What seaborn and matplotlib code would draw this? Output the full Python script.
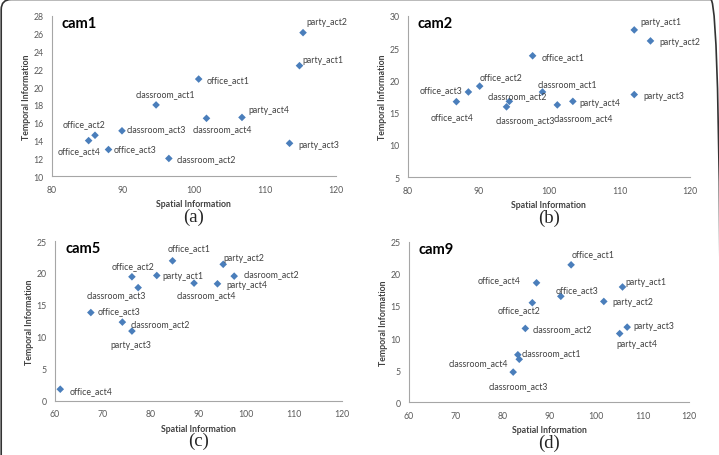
"""
Spatial vs temporal information scatter panels for four cameras.
"""

import matplotlib
matplotlib.use('Agg')
import matplotlib.pyplot as plt
from matplotlib.patches import FancyBboxPatch
import seaborn as sns

# Data

cam1_labels = ['office_act1', 'office_act2', 'office_act3', 'office_act4',
               'classroom_act1', 'classroom_act2', 'classroom_act3', 'classroom_act4',
               'party_act1', 'party_act2', 'party_act3', 'party_act4']
cam1_spatial = [100.7, 86.1, 88.0, 85.2, 94.7, 96.5, 89.9, 101.8, 114.9, 115.4, 113.5, 106.8]
cam1_temporal = [20.9, 14.6, 13.0, 14.0, 18.0, 12.0, 15.1, 16.5, 22.4, 26.1, 13.7, 16.6]

cam2_labels = cam1_labels
cam2_spatial = [97.7, 90.2, 88.6, 86.9, 99.1, 94.4, 94.0, 101.2, 112.1, 114.4, 112.1, 103.4]
cam2_temporal = [23.8, 19.1, 18.2, 16.7, 18.2, 16.75, 15.9, 16.2, 27.8, 26.1, 17.8, 16.75]

cam5_labels = ['office_act1', 'office_act2', 'office_act3', 'office_act4',
               'clasroom_act2', 'classroom_act2', 'classroom_act3', 'classroom_act4',
               'party_act1', 'party_act2', 'party_act3', 'party_act4']
cam5_spatial = [84.6, 76.1, 67.5, 61.1, 97.5, 74.1, 77.4, 89.1, 81.3, 95.2, 76.1, 94.0]
cam5_temporal = [21.9, 19.4, 13.8, 1.8, 19.5, 12.3, 17.7, 18.4, 19.6, 21.35, 10.9, 18.3]

cam9_labels = cam1_labels
cam9_spatial = [94.7, 86.4, 92.5, 87.3, 83.3, 84.9, 82.3, 83.6, 105.7, 101.7, 106.7, 105.1]
cam9_temporal = [21.4, 15.5, 16.5, 18.6, 7.4, 11.5, 4.7, 6.7, 17.95, 15.7, 11.7, 10.7]

# Label placement (offset in pixels, horizontal alignment)

label_offsets = {
    'cam1': {'office_act1': (8, -1, 'left'), 'office_act2': (-11, 12, 'center'),
             'office_act3': (5, 1, 'left'), 'office_act4': (-10, -10, 'center'),
             'classroom_act1': (9, 11, 'center'), 'classroom_act2': (8, 0, 'left'),
             'classroom_act3': (5, 2, 'left'), 'classroom_act4': (16, -10, 'center'),
             'party_act1': (3, 6, 'left'), 'party_act2': (3, 11, 'left'),
             'party_act3': (9, -1, 'left'), 'party_act4': (6, 8, 'left')},
    'cam2': {'office_act1': (9, -1, 'left'), 'office_act2': (21, 10, 'center'),
             'office_act3': (-6, 2, 'right'), 'office_act4': (-4, -15, 'center'),
             'classroom_act1': (25, 8, 'center'), 'classroom_act2': (8, 6, 'center'),
             'classroom_act3': (19, -13, 'center'), 'classroom_act4': (26, -13, 'center'),
             'party_act1': (6, 8, 'left'), 'party_act2': (9, -1, 'left'),
             'party_act3': (9, -1, 'left'), 'party_act4': (7, -1, 'left')},
    'cam5': {'office_act1': (17, 13, 'center'), 'office_act2': (1, 11, 'center'),
             'office_act3': (7, 2, 'left'), 'office_act4': (9, -1, 'left'),
             'clasroom_act2': (9, 3, 'left'), 'classroom_act2': (8, -1, 'left'),
             'classroom_act3': (-22, -7, 'center'), 'classroom_act4': (12, -11, 'center'),
             'party_act1': (6, 0, 'left'), 'party_act2': (0, 7, 'left'),
             'party_act3': (-1, -13, 'center'), 'party_act4': (9, -1, 'left')},
    'cam9': {'office_act1': (1, 11, 'left'), 'office_act2': (-13, -7, 'center'),
             'office_act3': (16, 7, 'center'), 'office_act4': (-16, 3, 'right'),
             'classroom_act1': (4, 2, 'left'), 'classroom_act2': (7, 0, 'left'),
             'classroom_act3': (5, -14, 'center'), 'classroom_act4': (-11, -3, 'right'),
             'party_act1': (3, 5, 'left'), 'party_act2': (9, 0, 'left'),
             'party_act3': (6, 2, 'left'), 'party_act4': (17, -10, 'center')},
}

W, H = 719, 456
SANS = ['Lato', 'DejaVu Sans']
MARKER = '#4A7EBB'
AXCOL = '#A6A6A6'


def add_panel(fig, box, name, letter, labels, xs, ys, xlim, xstep, ylim, ystep):
    """Draw one camera panel; box is (left, right, top, bottom) in pixels"""

    left, right, top, bottom = box
    ax = fig.add_axes([left / W, 1 - bottom / H, (right - left) / W, (bottom - top) / H])

    sns.scatterplot(x=xs, y=ys, marker='D', color=MARKER, s=15,
                    edgecolor='none', ax=ax, clip_on=False, zorder=3)

    for lab, x, y in zip(labels, xs, ys):
        dx, dy, ha = label_offsets[name][lab]
        ax.annotate(lab, (x, y), xytext=(dx, dy), textcoords='offset pixels',
                    ha=ha, va='center', fontsize=6.3, color='#404040',
                    family=SANS)

    ax.set_xlim(*xlim)
    ax.set_ylim(*ylim)
    ax.set_xticks(range(xlim[0], xlim[1] + 1, xstep))
    ax.set_yticks(range(ylim[0], ylim[1] + 1, ystep))
    for side in ['top', 'right']:
        ax.spines[side].set_visible(False)
    for side in ['left', 'bottom']:
        ax.spines[side].set_color(AXCOL)
        ax.spines[side].set_linewidth(0.8)
    ax.tick_params(direction='out', length=3, width=0.8, color=AXCOL,
                   labelsize=6.3, labelcolor='#595959', pad=3)
    for t in ax.get_xticklabels() + ax.get_yticklabels():
        t.set_family(SANS)

    ax.set_xlabel('Spatial Information', fontsize=6.3, fontweight='bold',
                  color='#404040', family=SANS, labelpad=4)
    ax.set_ylabel('Temporal Information', fontsize=6.3, fontweight='bold',
                  color='#404040', family=SANS, labelpad=1.5)

    ax.text(0.035, 1.0, name, transform=ax.transAxes, ha='left', va='top',
            fontsize=10.5, fontweight='bold', color='black', family=SANS)

    fig.text((left + right) / 2 / W, 1 - (bottom + 40) / H, letter,
             ha='center', va='center', fontsize=13.5, family='Liberation Serif')
    return ax


def main():
    """Run the program."""

    sns.set_style('white')
    fig = plt.figure(figsize=(W / 100, H / 100), dpi=100)

    add_panel(fig, (51.7, 335.7, 16.7, 177.3), 'cam1', '(a)', cam1_labels,
              cam1_spatial, cam1_temporal, (80, 120), 10, (10, 28), 2)
    add_panel(fig, (407.7, 690, 16.7, 178.3), 'cam2', '(b)', cam2_labels,
              cam2_spatial, cam2_temporal, (80, 120), 10, (5, 30), 5)
    add_panel(fig, (55, 341.7, 242, 401.7), 'cam5', '(c)', cam5_labels,
              cam5_spatial, cam5_temporal, (60, 120), 10, (0, 25), 5)
    add_panel(fig, (409, 689.3, 242.7, 403.3), 'cam9', '(d)', cam9_labels,
              cam9_spatial, cam9_temporal, (60, 120), 10, (0, 25), 5)

    # outer rounded frame, only top and left edges fall inside the image
    frame = FancyBboxPatch((1.2, -20), 719.5, 475.5,
                           boxstyle='round,pad=0,rounding_size=10',
                           transform=None, fill=False, edgecolor='#333333',
                           linewidth=1.2)
    fig.patches.append(frame)

    plt.savefig('out.png', dpi=100)


if __name__ == '__main__':
    main()
